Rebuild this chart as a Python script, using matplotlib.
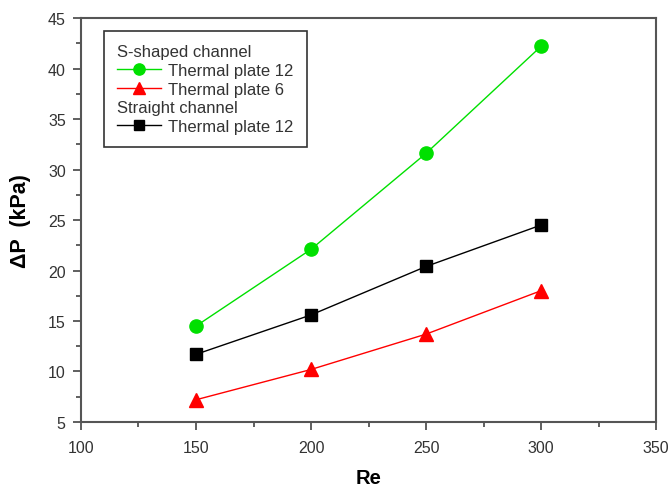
import matplotlib.pyplot as plt
from matplotlib.lines import Line2D
from matplotlib.ticker import MultipleLocator

plt.rcParams['font.family'] = ['Liberation Sans', 'DejaVu Sans']

# data
re_vals = [150, 200, 250, 300]
s_plate12 = [14.5, 22.1, 31.6, 42.2]
s_plate6 = [7.2, 10.2, 13.7, 18.0]
straight_plate12 = [11.7, 15.6, 20.4, 24.5]

fig = plt.figure(figsize=(6.71, 4.89), dpi=100)
ax = fig.add_axes([0.1207, 0.135, 0.857, 0.826])

l1, = ax.plot(re_vals, s_plate12, color='#00e000', marker='o', ms=9.5, lw=1)
l2, = ax.plot(re_vals, s_plate6, color='#ff0000', marker='^', ms=10.5, lw=1)
l3, = ax.plot(re_vals, straight_plate12, color='black', marker='s', ms=8.5, lw=1)

ax.set_xlim(100, 350)
ax.set_ylim(5, 45)
ax.xaxis.set_major_locator(MultipleLocator(50))
ax.xaxis.set_minor_locator(MultipleLocator(25))
ax.yaxis.set_major_locator(MultipleLocator(5))
ax.yaxis.set_minor_locator(MultipleLocator(2.5))
ax.tick_params(which='both', direction='out', colors='#444444', labelcolor='#333333',
               labelsize=11.5)
ax.tick_params(which='major', length=6, width=1.2, pad=5)
ax.tick_params(axis='x', which='major', pad=7)
ax.tick_params(which='minor', length=3.5, width=1.2)
for sp in ax.spines.values():
    sp.set_color('#555555')
    sp.set_linewidth(1.5)

ax.set_xlabel('Re', fontsize=14.5, fontweight='bold', labelpad=9)
ax.set_ylabel('ΔP  (kPa)', fontsize=15.5, fontweight='bold', labelpad=12)

blank = Line2D([], [], linestyle='none')
handles = [blank, l1, l2, blank, l3]
labels = ['S-shaped channel', 'Thermal plate 12', 'Thermal plate 6',
          'Straight channel', 'Thermal plate 12']
leg = ax.legend(handles, labels, loc='upper left', bbox_to_anchor=(0.04, 0.968),
                borderaxespad=0, fancybox=False, edgecolor='#333333', fontsize=12,
                handlelength=2.6, handletextpad=0.45, labelspacing=0.22,
                borderpad=0.8, framealpha=1, markerscale=0.85)
leg.get_frame().set_linewidth(1.2)
for t in leg.get_texts():
    t.set_color('#333333')

# header rows: drop the handle box so text starts where the lines start
rows = leg._legend_handle_box.get_children()[0].get_children()
for i in (0, 3):
    rows[i].get_children()[0].width = 0
    rows[i].sep = 0

fig.savefig('out.png', dpi=100)
